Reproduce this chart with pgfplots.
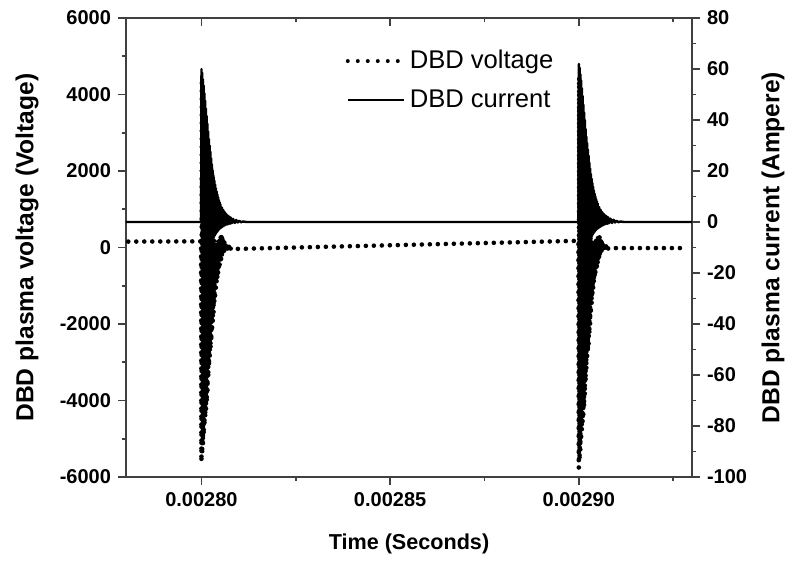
\documentclass[border=0pt]{standalone}
\usepackage{fontspec}
\setmainfont{Liberation Sans}
\usepackage{pgfplots}
\pgfplotsset{compat=1.18}

\pgfplotsset{
  myaxis/.style={
    width=283pt, height=229.5pt, scale only axis,
    xmin=2780, xmax=2930,
    axis line style={black!75, line width=0.9pt},
    every tick/.style={black!75, line width=0.9pt},
    major tick length=4pt, minor tick length=2pt,
    tick align=outside,
    tick label style={font=\fontsize{10}{12}\selectfont\bfseries, black},
    /pgf/number format/assume math mode=true,
    /pgf/number format/1000 sep={},
  },
  vstyle/.style={black, line width=2.3pt, line cap=round, line join=round, dash pattern=on 0pt off 4pt},
  cstyle/.style={black, line width=1.2pt, line join=round},
}

\pgfplotstableread{
t v
2780.6 155
2799.9 160
2800.0 -5600
2800.1 4300
2800.2 -5400
2800.3 3700
2800.4 -5150
2800.5 3150
2800.6 -4900
2800.7 2680
2800.8 -4650
2800.9 2250
2801.0 -4450
2801.1 1870
2801.2 -4250
2801.3 1550
2801.4 -4050
2801.5 1270
2801.6 -3750
2801.7 1050
2801.8 -3400
2801.9 860
2802.0 -3100
2802.1 710
2802.2 -2850
2802.3 580
2802.4 -2650
2802.5 470
2802.6 -2450
2802.7 380
2802.8 -2200
2802.9 300
2803.0 -1950
2803.1 240
2803.2 -1700
2803.3 185
2803.4 -1450
2803.5 140
2803.6 -1250
2803.7 105
2803.8 -1050
2803.9 80
2804.0 -900
2804.1 85
2804.2 -780
2804.3 125
2804.4 -670
2804.5 175
2804.6 -570
2804.7 225
2804.8 -480
2804.9 265
2805.0 -400
2805.1 290
2805.2 -330
2805.3 300
2805.4 -270
2805.5 275
2805.6 -210
2805.7 240
2805.8 -160
2805.9 200
2806.0 -120
2806.1 165
2806.2 -100
2806.4 130
2806.6 -85
2806.8 90
2807.0 -70
2807.2 55
2807.4 -60
2807.6 20
2807.8 -50
2808.0 -40
2899.9 175
2900.0 -5760
2900.1 4450
2900.2 -5560
2900.3 3800
2900.4 -5300
2900.5 3250
2900.6 -5050
2900.7 2750
2900.8 -4790
2900.9 2320
2901.0 -4580
2901.1 1930
2901.2 -4380
2901.3 1600
2901.4 -4170
2901.5 1310
2901.6 -3860
2901.7 1080
2901.8 -3500
2901.9 890
2902.0 -3190
2902.1 730
2902.2 -2940
2902.3 600
2902.4 -2730
2902.5 480
2902.6 -2520
2902.7 390
2902.8 -2270
2902.9 310
2903.0 -2010
2903.1 250
2903.2 -1750
2903.3 190
2903.4 -1490
2903.5 145
2903.6 -1290
2903.7 110
2903.8 -1080
2903.9 85
2904.0 -930
2904.1 90
2904.2 -800
2904.3 130
2904.4 -690
2904.5 180
2904.6 -590
2904.7 230
2904.8 -490
2904.9 270
2905.0 -410
2905.1 300
2905.2 -340
2905.3 310
2905.4 -280
2905.5 280
2905.6 -215
2905.7 245
2905.8 -165
2905.9 205
2906.0 -125
2906.1 170
2906.2 -100
2906.4 135
2906.6 -80
2906.8 95
2907.0 -60
2907.2 60
2907.4 -45
2907.6 30
2907.8 -30
2908.0 -15
2928.0 -15
}\voltage

\pgfplotstableread{
t i
2780 0
2799.9 0
2800.0 60
2800.1 -21
2800.2 58.5
2800.3 -20
2800.4 56
2800.5 -19
2800.6 53.5
2800.7 -18
2800.8 50.5
2800.9 -17
2801.0 47.5
2801.1 -16
2801.2 44.5
2801.3 -15
2801.4 41.5
2801.5 -14
2801.6 38.5
2801.7 -13
2801.8 35.5
2801.9 -12
2802.0 32.5
2802.1 -11
2802.2 30
2802.3 -10
2802.4 27.5
2802.5 -9
2802.6 25
2802.7 -8.2
2802.8 22.5
2802.9 -7.4
2803.0 20.2
2803.1 -6.6
2803.2 18.2
2803.3 -6
2803.4 16.4
2803.5 -5.4
2803.6 14.8
2803.7 -4.9
2803.8 13.3
2803.9 -4.4
2804.0 12
2804.1 -4
2804.2 10.8
2804.3 -3.6
2804.4 9.7
2804.5 -3.2
2804.6 8.7
2804.7 -2.9
2804.8 7.8
2804.9 -2.6
2805.0 7.0
2805.2 -2.3
2805.4 5.7
2805.6 -1.9
2805.8 4.7
2806.0 -1.5
2806.2 3.8
2806.4 -1.2
2806.6 3.1
2806.8 -1.0
2807.0 2.5
2807.2 -0.8
2807.4 2.1
2807.6 -0.7
2807.8 1.7
2808.0 -0.5
2808.4 1.2
2808.8 -0.4
2809.2 0.8
2809.6 -0.2
2810.0 0.5
2810.5 -0.1
2811.0 0.2
2812 0
2899.9 0
2900.0 62
2900.1 -22
2900.2 60.5
2900.3 -21
2900.4 58
2900.5 -20
2900.6 55.5
2900.7 -19
2900.8 52.5
2900.9 -17.5
2901.0 49.5
2901.1 -16.5
2901.2 46
2901.3 -15.5
2901.4 43
2901.5 -14.5
2901.6 40
2901.7 -13.5
2901.8 36.5
2901.9 -12.5
2902.0 33.5
2902.1 -11.5
2902.2 31
2902.3 -10.5
2902.4 28.5
2902.5 -9.5
2902.6 26
2902.7 -8.5
2902.8 23.3
2902.9 -7.6
2903.0 21
2903.1 -6.8
2903.2 18.8
2903.3 -6.2
2903.4 17
2903.5 -5.6
2903.6 15.3
2903.7 -5
2903.8 13.8
2903.9 -4.5
2904.0 12.4
2904.1 -4.1
2904.2 11.1
2904.3 -3.7
2904.4 10
2904.5 -3.3
2904.6 9
2904.7 -3
2904.8 8.1
2904.9 -2.7
2905.0 7.3
2905.2 -2.4
2905.4 5.9
2905.6 -2.0
2905.8 4.8
2906.0 -1.6
2906.2 3.9
2906.4 -1.3
2906.6 3.2
2906.8 -1.0
2907.0 2.6
2907.2 -0.8
2907.4 2.2
2907.6 -0.7
2907.8 1.8
2908.0 -0.5
2908.4 1.3
2908.8 -0.4
2909.2 0.9
2909.6 -0.2
2910.0 0.5
2910.5 -0.1
2911.0 0.2
2912 0
2930 0
}\current

\begin{document}
\begin{tikzpicture}
\path[use as bounding box] (-63pt,-43.5pt) rectangle (334pt,238.5pt);
% left axis: voltage
\begin{axis}[myaxis,
  ymin=-6000, ymax=6000,
  ytick={-6000,-4000,...,6000},
  minor ytick={-5000,-3000,...,5000},
  xtick={2800,2850,2900},
  xticklabels={0.00280,0.00285,0.00290},
  minor xtick={2825,2875,2925},
  xtick pos=bottom, ytick pos=left,
  xlabel={Time (Seconds)},
  ylabel={DBD plasma voltage (Voltage)},
  xlabel style={font=\fontsize{10.8}{13}\selectfont\bfseries, at={(axis description cs:0.5,-0.146)}, anchor=center},
  ylabel style={font=\fontsize{12.3}{14}\selectfont\bfseries, at={(axis description cs:-0.175,0.5)}, anchor=center},
  legend style={draw=none, fill=none, at={(axis description cs:0.377,0.948)}, anchor=north west,
    font=\fontsize{12.8}{15}\selectfont, row sep=5pt},
  legend cell align=left,
  legend image code/.code={\draw[#1] (0pt,0pt) -- (28pt,0pt);},
]
\addplot[vstyle, forget plot] table[x=t, y=v] {\voltage};
\addlegendimage{black, line width=2pt, line cap=round, dash pattern=on 0pt off 5pt}
\addlegendentry{DBD voltage}
\addlegendimage{cstyle}
\addlegendentry{DBD current}
\end{axis}
% right axis: current
\begin{axis}[myaxis,
  ymin=-100, ymax=80,
  ytick={-100,-80,...,80},
  minor ytick={-90,-70,...,70},
  axis y line*=right, axis x line=none,
  ylabel={DBD plasma current (Ampere)},
  ylabel style={font=\fontsize{12.3}{14}\selectfont\bfseries, at={(axis description cs:1.143,0.5)}, anchor=center},
]
\addplot[cstyle] table[x=t, y=i] {\current};
\end{axis}
% top axis: inward ticks
\begin{axis}[myaxis,
  ymin=0, ymax=1,
  axis x line*=top, axis y line=none,
  tick align=inside,
  xtick={2800,2850,2900}, xticklabels={},
  minor xtick={2825,2875,2925},
]
\end{axis}
\end{tikzpicture}
\end{document}
